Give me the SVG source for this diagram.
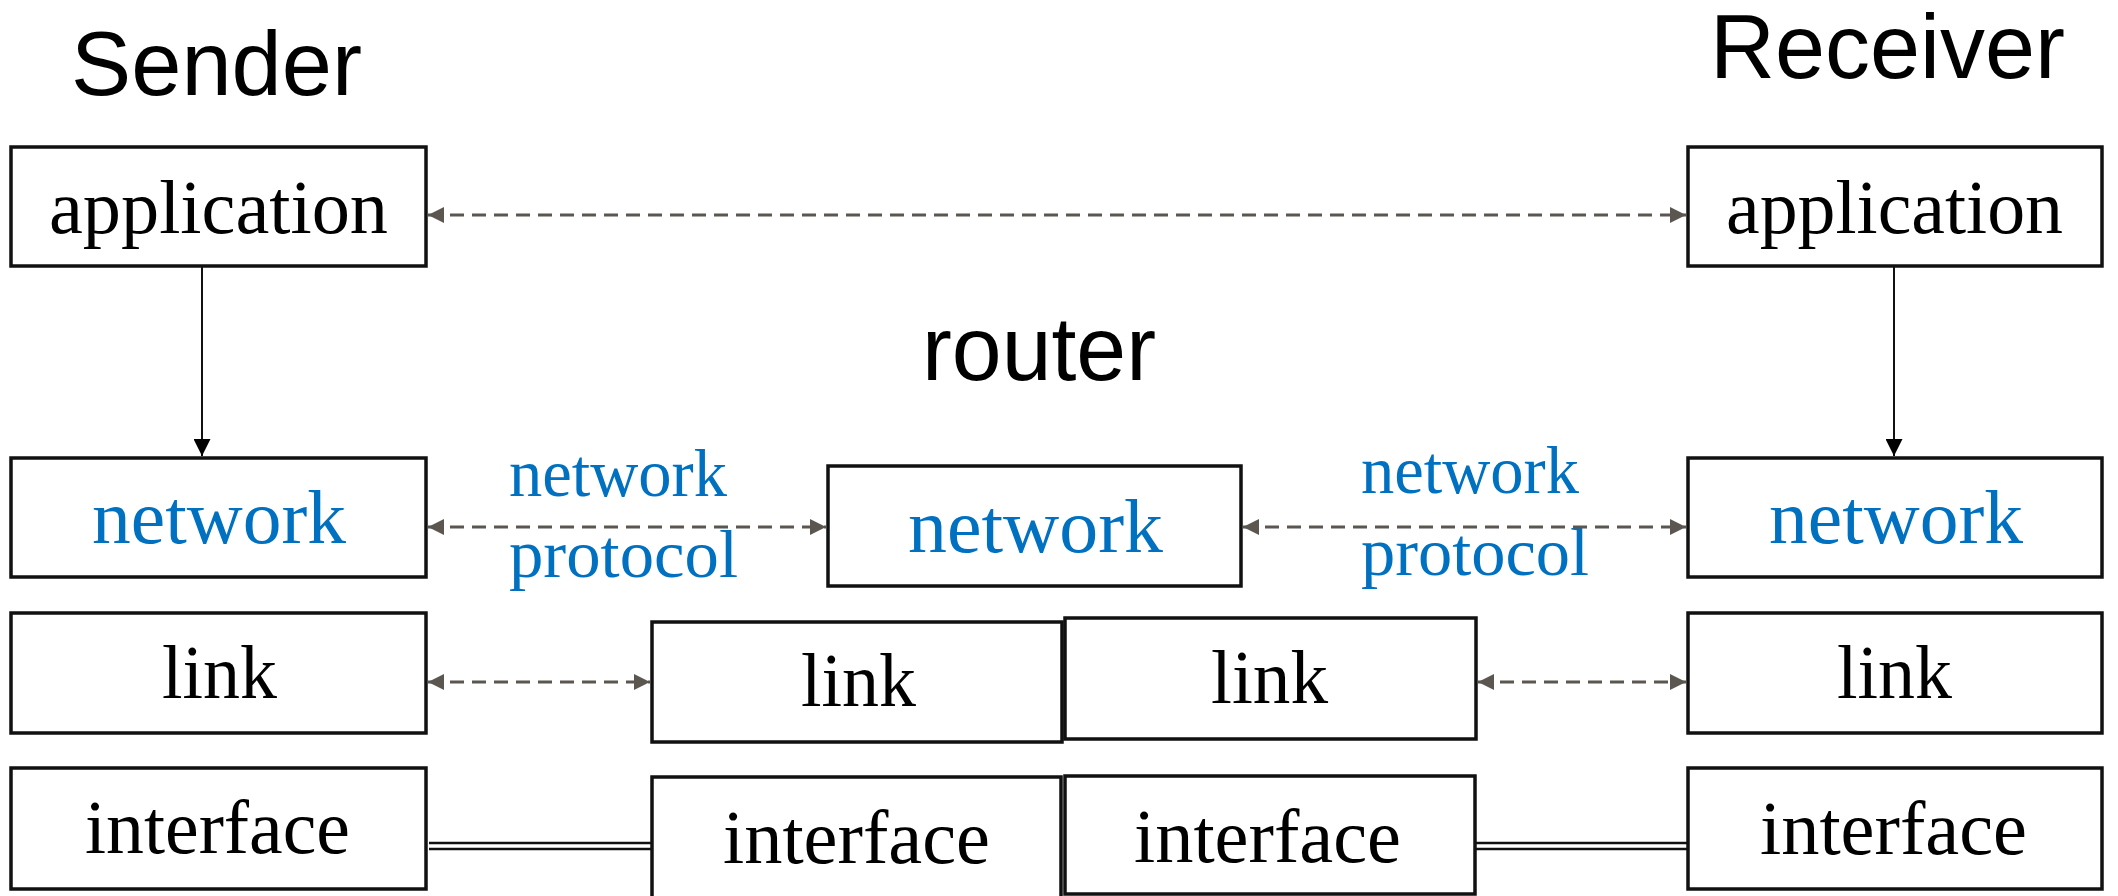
<svg xmlns="http://www.w3.org/2000/svg" width="2118" height="896" viewBox="0 0 2118 896">
<style>
.box{fill:#fff;stroke:#111;stroke-width:3.5}
.title{font-family:"Liberation Sans",Arial,sans-serif;font-size:91px;fill:#000}
.lbl{font-family:"Liberation Serif","Times New Roman",serif;font-size:76px;fill:#000}
.blue{fill:#0070c0}
.proto{font-family:"Liberation Serif","Times New Roman",serif;font-size:67px;fill:#0070c0}
.dash{stroke:#5b5650;stroke-width:2.8;stroke-dasharray:14 8;fill:none}
.solid{stroke:#111;stroke-width:2;fill:none}
.dbl{stroke:#111;stroke-width:2.4;fill:none}
</style>
<defs>
<marker id="ag" viewBox="0 0 16 16" refX="16" refY="8" markerWidth="16" markerHeight="16" orient="auto-start-reverse" markerUnits="userSpaceOnUse">
<path d="M0,0 L16,8 L0,16 z" fill="#5b5650"/>
</marker>
<marker id="ab" viewBox="0 0 17 17" refX="17" refY="8.5" markerWidth="17" markerHeight="17" orient="auto" markerUnits="userSpaceOnUse">
<path d="M0,0 L17,8.5 L0,17 z" fill="#000"/>
</marker>
</defs>
<rect width="2118" height="896" fill="#fff"/>

<g id="titles">
<text class="title" x="71" y="95" textLength="291" lengthAdjust="spacingAndGlyphs">Sender</text>
<text class="title" x="1710" y="78" textLength="355" lengthAdjust="spacingAndGlyphs">Receiver</text>
<text class="title" x="922" y="380" textLength="234" lengthAdjust="spacingAndGlyphs">router</text>
</g>

<g id="sender-application"><rect class="box" x="11" y="147" width="415" height="119"/><text class="lbl" x="49" y="233" textLength="339" lengthAdjust="spacingAndGlyphs">application</text></g>
<g id="receiver-application"><rect class="box" x="1688" y="147" width="414" height="119"/><text class="lbl" x="1726" y="233" textLength="337" lengthAdjust="spacingAndGlyphs">application</text></g>

<g id="sender-network"><rect class="box" x="11" y="458" width="415" height="119"/><text class="lbl blue" x="92" y="543" textLength="254" lengthAdjust="spacingAndGlyphs">network</text></g>
<g id="router-network"><rect class="box" x="828" y="466" width="413" height="120"/><text class="lbl blue" x="908" y="552" textLength="255" lengthAdjust="spacingAndGlyphs">network</text></g>
<g id="receiver-network"><rect class="box" x="1688" y="458" width="414" height="119"/><text class="lbl blue" x="1769" y="543" textLength="254" lengthAdjust="spacingAndGlyphs">network</text></g>

<g id="sender-link"><rect class="box" x="11" y="613" width="415" height="120"/><text class="lbl" x="162" y="698" textLength="115" lengthAdjust="spacingAndGlyphs">link</text></g>
<g id="router-link-1"><rect class="box" x="652" y="622" width="410" height="120"/><text class="lbl" x="801" y="706" textLength="115" lengthAdjust="spacingAndGlyphs">link</text></g>
<g id="router-link-2"><rect class="box" x="1065" y="618" width="411" height="121"/><text class="lbl" x="1211" y="703" textLength="117" lengthAdjust="spacingAndGlyphs">link</text></g>
<g id="receiver-link"><rect class="box" x="1688" y="613" width="414" height="120"/><text class="lbl" x="1837" y="698" textLength="115" lengthAdjust="spacingAndGlyphs">link</text></g>

<g id="sender-interface"><rect class="box" x="11" y="768" width="415" height="121"/><text class="lbl" x="85" y="853" textLength="265" lengthAdjust="spacingAndGlyphs">interface</text></g>
<g id="router-interface-1"><rect class="box" x="652" y="777" width="409" height="130"/><text class="lbl" x="723" y="863" textLength="267" lengthAdjust="spacingAndGlyphs">interface</text></g>
<g id="router-interface-2"><rect class="box" x="1065" y="776" width="410" height="118"/><text class="lbl" x="1134" y="862" textLength="267" lengthAdjust="spacingAndGlyphs">interface</text></g>
<g id="receiver-interface"><rect class="box" x="1688" y="768" width="414" height="121"/><text class="lbl" x="1760" y="854" textLength="267" lengthAdjust="spacingAndGlyphs">interface</text></g>

<g id="protocol-labels">
<text class="proto" x="509" y="496" textLength="218" lengthAdjust="spacingAndGlyphs">network</text>
<text class="proto" x="509" y="577" textLength="229" lengthAdjust="spacingAndGlyphs">protocol</text>
<text class="proto" x="1361" y="493" textLength="218" lengthAdjust="spacingAndGlyphs">network</text>
<text class="proto" x="1361" y="575" textLength="228" lengthAdjust="spacingAndGlyphs">protocol</text>
</g>

<g id="connectors">
<line class="dash" x1="428" y1="215" x2="1686" y2="215" marker-start="url(#ag)" marker-end="url(#ag)"/>
<line class="dash" x1="428" y1="527" x2="826" y2="527" marker-start="url(#ag)" marker-end="url(#ag)"/>
<line class="dash" x1="1243" y1="527" x2="1686" y2="527" marker-start="url(#ag)" marker-end="url(#ag)"/>
<line class="dash" x1="428" y1="682" x2="650" y2="682" marker-start="url(#ag)" marker-end="url(#ag)"/>
<line class="dash" x1="1478" y1="682" x2="1686" y2="682" marker-start="url(#ag)" marker-end="url(#ag)"/>
<line class="solid" x1="202" y1="267" x2="202" y2="456" marker-end="url(#ab)"/>
<line class="solid" x1="1894" y1="267" x2="1894" y2="456" marker-end="url(#ab)"/>
<line class="dbl" x1="429" y1="843" x2="651" y2="843"/>
<line class="dbl" x1="429" y1="849" x2="651" y2="849"/>
<line class="dbl" x1="1476" y1="843" x2="1688" y2="843"/>
<line class="dbl" x1="1476" y1="849" x2="1688" y2="849"/>
</g>
</svg>
